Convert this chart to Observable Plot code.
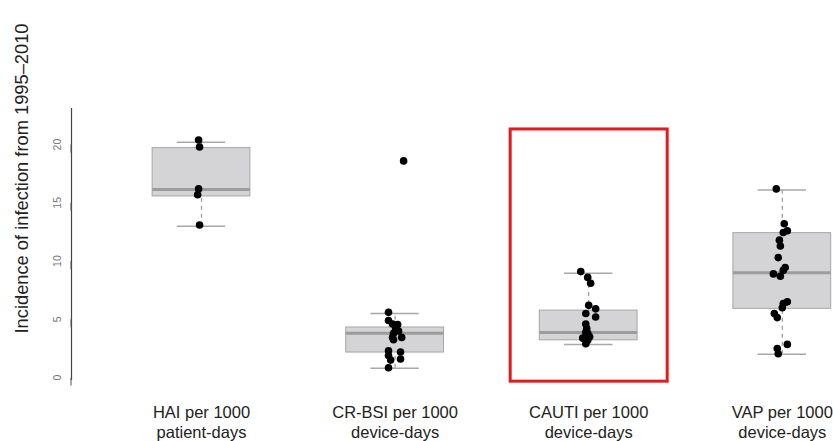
<!DOCTYPE html>
<html>
<head>
<meta charset="utf-8">
<script src="https://cdn.jsdelivr.net/npm/d3@7"></script>
<script src="https://cdn.jsdelivr.net/npm/@observablehq/plot@0.6"></script>
<style>
  html, body { margin: 0; padding: 0; background: #fff; }
  #chart { width: 833px; height: 441px; overflow: hidden; }
</style>
</head>
<body>
<div id="chart"></div>
<script>
// ---- data ----
const categories = ["HAI per 1000\npatient-days", "CR-BSI per 1000\ndevice-days", "CAUTI per 1000\ndevice-days", "VAP per 1000\ndevice-days"];
const whiskerLow  = [13.0, 0.8, 2.85, 2.0];
const quartile1   = [15.55, 2.15, 3.2, 5.9];
const medians     = [16.15, 3.8, 3.87, 9.0];
const quartile3   = [19.7, 4.3, 5.75, 12.4];
const whiskerHigh = [20.2, 5.5, 8.95, 16.1];

const haiValues   = [20.4, 19.8, 16.2, 15.7, 13.1];
const haiJitter   = [-0.015, -0.01, -0.015, -0.02, -0.01];
const crbsiValues = [18.6, 5.6, 4.9, 4.6, 4.55, 4.2, 4.0, 3.8, 3.45, 3.45, 3.25, 2.3, 2.2, 1.9, 1.6, 1.5, 0.85];
const crbsiJitter = [0.044, -0.034, -0.034, -0.013, 0.013, 0.003, 0.018, -0.008, -0.013, 0.034, -0.008, -0.034, 0.028, -0.034, 0.028, -0.023, -0.034];
const cautiValues = [9.1, 8.6, 8.1, 6.2, 5.9, 5.5, 5.2, 4.6, 4.2, 3.9, 3.8, 3.4, 3.5, 3.35, 3.2, 2.9];
const cautiJitter = [-0.041, -0.005, 0.010, 0, 0.036, -0.015, 0.036, -0.015, -0.010, -0.015, -0.005, -0.031, 0.005, -0.026, -0.005, -0.015];
const vapValues   = [16.2, 13.2, 12.6, 12.45, 11.8, 11.3, 10.3, 9.45, 8.9, 9.2, 8.7, 6.5, 6.35, 6.0, 5.5, 5.15, 2.85, 2.5, 2.05];
const vapJitter   = [-0.031, 0.010, 0.026, 0.005, -0.015, -0.010, -0.021, 0.015, -0.046, 0.005, -0.010, 0.026, 0.005, 0, -0.041, -0.026, 0.026, -0.026, -0.021];

const yTicks = [0, 5, 10, 15, 20];
const yTitle = "Incidence of infection from 1995\u20132010";
const highlighted = 3; // CAUTI

// ---- derived tables ----
const boxes = categories.map((c, i) => ({
  pos: i + 1, lo: whiskerLow[i], q1: quartile1[i], med: medians[i], q3: quartile3[i], hi: whiskerHigh[i]
}));
const groups = [[haiValues, haiJitter], [crbsiValues, crbsiJitter], [cautiValues, cautiJitter], [vapValues, vapJitter]];
const points = groups.flatMap(([vals, jit], i) => vals.map((v, j) => ({pos: i + 1 + jit[j], value: v})));

const boxHalf = 0.2525, capHalf = 0.125;
const font = "'Liberation Sans', Arial, Helvetica, sans-serif";

const chart = Plot.plot({
  width: 833,
  height: 441,
  marginLeft: 71,
  marginRight: 0,
  marginTop: 108,
  marginBottom: 61,
  style: {fontFamily: font, background: "#fff"},
  x: {domain: [0.3285, 4.2645], axis: null},
  y: {domain: [-0.25, 23.1], axis: null},
  marks: [
    // whiskers (dashed)
    Plot.ruleX(boxes, {x: "pos", y1: "lo", y2: "hi", stroke: "#9a9a9a", strokeWidth: 1.2, strokeDasharray: "4,4"}),
    // whisker caps
    Plot.ruleY(boxes, {y: "hi", x1: d => d.pos - capHalf, x2: d => d.pos + capHalf, stroke: "#a8a8a8", strokeWidth: 1.5}),
    Plot.ruleY(boxes, {y: "lo", x1: d => d.pos - capHalf, x2: d => d.pos + capHalf, stroke: "#a8a8a8", strokeWidth: 1.5}),
    // boxes
    Plot.rect(boxes, {x1: d => d.pos - boxHalf, x2: d => d.pos + boxHalf, y1: "q1", y2: "q3", fill: "#d4d4d6", stroke: "#a6a6a6", strokeWidth: 1}),
    // medians
    Plot.ruleY(boxes, {y: "med", x1: d => d.pos - boxHalf, x2: d => d.pos + boxHalf, stroke: "#9c9c9c", strokeWidth: 3}),
    // data points
    Plot.dot(points, {x: "pos", y: "value", r: 3.8, fill: "#000", stroke: "none"}),
    // highlight rectangle around CAUTI
    Plot.rect([highlighted], {x1: d => d - 0.403, x2: d => d + 0.408, y1: -0.35, y2: 21.3, fill: "none", stroke: "#e41a1c", strokeWidth: 3}),
    // y axis line
    Plot.ruleX([0.3285], {stroke: "#444", strokeWidth: 1.2}),
    Plot.axisY(yTicks, {
      tickSize: 8, tickPadding: 3, stroke: "#555",
      rotate: -90, textAnchor: "middle", lineAnchor: "bottom",
      fontSize: 10.5, fill: "#777"
    }),
    Plot.axisX([1, 2, 3, 4], {
      tickSize: 0, tickPadding: 24, tickFormat: d => categories[d - 1],
      fontSize: 16.5, lineHeight: 1.18, fill: "#222", label: null
    }),
    // y title
    Plot.text([yTitle], {
      frameAnchor: "top-left", rotate: -90, textAnchor: "middle", lineAnchor: "middle",
      dx: -49, dy: 70, fontSize: 18.3, fill: "#222"
    })
  ]
});
document.getElementById("chart").appendChild(chart);
</script>
</body>
</html>
